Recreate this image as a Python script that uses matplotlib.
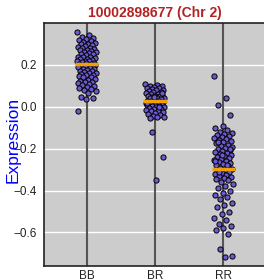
import numpy as np
import matplotlib
matplotlib.use("Agg")
from matplotlib import pyplot as plt

# genotype groups
groups = ["BB", "BR", "RR"]

# expression values
bb = [0.355, 0.345, 0.335, 0.33, 0.325, 0.32, 0.315, 0.31, 0.305, 0.30, 0.30, 0.295,
      0.29, 0.285, 0.28, 0.28, 0.275, 0.27, 0.27, 0.265, 0.26, 0.26, 0.255, 0.25,
      0.25, 0.245, 0.24, 0.24, 0.24, 0.235, 0.23, 0.23, 0.225, 0.22, 0.22, 0.22,
      0.215, 0.21, 0.21, 0.205, 0.205, 0.20, 0.20, 0.20, 0.195, 0.19, 0.19, 0.19,
      0.185, 0.18, 0.18, 0.175, 0.17, 0.17, 0.165, 0.16, 0.16, 0.155, 0.15, 0.15,
      0.145, 0.14, 0.14, 0.135, 0.13, 0.125, 0.12, 0.12, 0.115, 0.11, 0.105, 0.10,
      0.095, 0.09, 0.085, 0.08, 0.075, 0.065, 0.045, 0.04, 0.035, -0.02]
br = [0.11, 0.105, 0.10, 0.10, 0.095, 0.09, 0.09, 0.085, 0.08, 0.08, 0.075, 0.07,
      0.07, 0.065, 0.06, 0.06, 0.055, 0.05, 0.05, 0.05, 0.045, 0.04, 0.04, 0.04,
      0.035, 0.035, 0.03, 0.03, 0.03, 0.025, 0.025, 0.025, 0.02, 0.02, 0.02, 0.015,
      0.015, 0.01, 0.01, 0.01, 0.005, 0.005, 0.0, 0.0, -0.005, -0.01, -0.01, -0.015,
      -0.02, -0.02, -0.025, -0.03, -0.035, -0.04, -0.045, -0.05, -0.05, -0.055,
      0.065, 0.045, 0.02, 0.0, -0.12, -0.24, -0.35]
rr = [0.145, 0.04, 0.01, -0.04, -0.09, -0.10, -0.11, -0.12, -0.125, -0.13, -0.135,
      -0.14, -0.145, -0.15, -0.155, -0.16, -0.165, -0.17, -0.175, -0.18, -0.185,
      -0.19, -0.195, -0.20, -0.205, -0.21, -0.215, -0.22, -0.225, -0.23, -0.235,
      -0.24, -0.245, -0.25, -0.255, -0.26, -0.265, -0.27, -0.275, -0.28, -0.285,
      -0.29, -0.295, -0.30, -0.305, -0.31, -0.315, -0.32, -0.325, -0.33, -0.335,
      -0.34, -0.345, -0.35, -0.36, -0.37, -0.38, -0.39, -0.40, -0.41, -0.42, -0.43,
      -0.44, -0.46, -0.47, -0.48, -0.50, -0.51, -0.53, -0.54, -0.56, -0.57, -0.58,
      -0.59, -0.605, -0.68, -0.71, -0.715, -0.17, -0.2, -0.23, -0.26, -0.28, -0.31]
medians = [0.205, 0.028, -0.295]

fig = plt.figure(figsize=(2.64, 2.80), dpi=100)
ax = fig.add_axes([44 / 264, 14 / 280, 222 / 264, 243 / 280])
ax.set_facecolor("#cccccc")

for i, vals in enumerate([bb, br, rr]):
    x0 = i + 1
    ax.axvline(x0, color="#555555", lw=1.5, zorder=1)
    n = len(vals)
    # spread the points sideways (deterministic jitter)
    jit = ((np.arange(n) * 0.618034) % 1 - 0.5) * 0.28
    ax.scatter(x0 + jit, vals, s=14, c="#6a5acd", edgecolors="black",
               linewidths=0.7, zorder=3)
    ax.hlines(medians[i], x0 - 0.17, x0 + 0.17, color="#f0a000", lw=2.5, zorder=4)

ax.set_xlim(0.375, 3.625)
ax.set_ylim(-0.76, 0.40)
ax.set_xticks([1, 2, 3])
ax.set_xticklabels(groups)
ax.set_yticks([-0.6, -0.4, -0.2, 0.0, 0.2])
ax.set_yticklabels(["\u22120.6", "\u22120.4", "\u22120.2", "0.0", "0.2"])
ax.yaxis.grid(True, color="white", lw=1)
ax.set_axisbelow(True)
ax.tick_params(length=0, labelsize=8.5, labelcolor="#222222", pad=5)
ax.tick_params(axis="x", pad=3)

for s in ["top", "left", "bottom"]:
    ax.spines[s].set_color("#222222")
    ax.spines[s].set_linewidth(1.2)
ax.spines["right"].set_visible(False)

ax.set_title("10002898677 (Chr 2)", color="#b22222", fontweight="bold",
             fontsize=10, family="Liberation Sans", pad=4)
ax.set_ylabel("Expression", color="blue", fontsize=12.5, family="Liberation Sans")
ax.yaxis.set_label_coords(-0.105, 0.52)
for lab in ax.get_xticklabels() + ax.get_yticklabels():
    lab.set_family("Liberation Sans")

fig.savefig("out.png", dpi=100)
